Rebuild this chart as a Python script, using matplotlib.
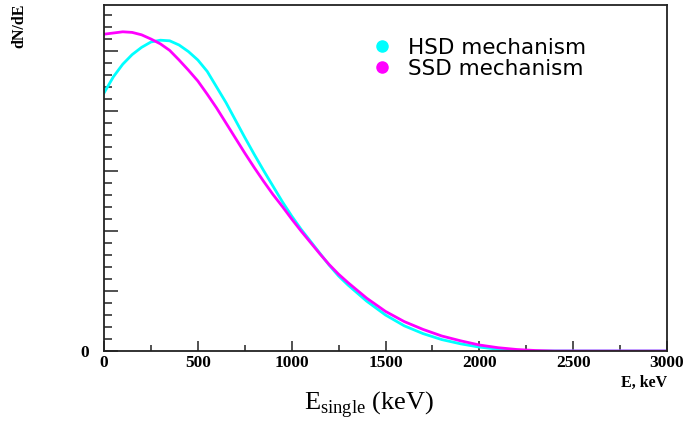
import matplotlib.pyplot as plt
from matplotlib.lines import Line2D
from matplotlib.ticker import MultipleLocator

plt.rcParams['mathtext.fontset'] = 'custom'
plt.rcParams['mathtext.rm'] = 'Liberation Serif'

# energy grid (keV) the curves were read at
e_grid = [0, 50, 100, 150, 200, 250, 300, 350, 400, 450, 500, 550, 600, 650,
          700, 750, 800, 850, 900, 950, 1000, 1050, 1100, 1150, 1200, 1250,
          1300, 1400, 1500, 1600, 1700, 1800, 1900, 2000, 2100, 2200, 2300,
          2400, 2600, 2800, 3000]

# HSD mechanism (cyan)
hsd_y = [4.30, 4.57, 4.78, 4.94, 5.06, 5.15, 5.18, 5.17, 5.10, 4.99, 4.85,
         4.66, 4.40, 4.14, 3.85, 3.56, 3.28, 3.01, 2.75, 2.49, 2.25, 2.03,
         1.83, 1.63, 1.43, 1.25, 1.10, 0.83, 0.60, 0.42, 0.29, 0.19, 0.12,
         0.065, 0.03, 0.008, 0.0, 0.0, 0.0, 0.0, 0.0]

# SSD mechanism (magenta)
ssd_y = [5.28, 5.30, 5.32, 5.31, 5.27, 5.20, 5.12, 5.01, 4.85, 4.68, 4.50,
         4.28, 4.05, 3.80, 3.55, 3.30, 3.06, 2.83, 2.61, 2.41, 2.20, 2.00,
         1.81, 1.62, 1.44, 1.28, 1.14, 0.88, 0.66, 0.49, 0.36, 0.25, 0.17,
         0.10, 0.055, 0.025, 0.008, 0.0, 0.0, 0.0, 0.0]

x_ticks = [0, 500, 1000, 1500, 2000, 2500, 3000]

fig = plt.figure(figsize=(6.86, 4.21), dpi=100)
ax = fig.add_axes([104 / 686, 70 / 421, 563 / 686, 346 / 421])

ax.plot(e_grid, hsd_y, color='#00ffff', lw=2.0)
ax.plot(e_grid, ssd_y, color='#ff00ff', lw=2.0)

ax.set_xlim(0, 3000)
ax.set_ylim(0, 346 / 60)

ax.set_xticks(x_ticks)
ax.set_xticklabels([str(t) for t in x_ticks], fontfamily='Liberation Serif',
                   fontweight='bold', fontsize=12.5)
ax.xaxis.set_minor_locator(MultipleLocator(250))
ax.set_yticks([0, 1, 2, 3, 4, 5])
ax.set_yticklabels(['0', '', '', '', '', ''], fontfamily='Liberation Serif',
                   fontweight='bold', fontsize=12.5)
ax.yaxis.set_minor_locator(MultipleLocator(0.2))

ax.tick_params(which='both', direction='in', color='#333333', width=1.2)
ax.tick_params(axis='x', which='major', length=7, pad=3)
ax.tick_params(axis='x', which='minor', length=4)
ax.tick_params(axis='y', which='major', length=10, pad=11)
ax.tick_params(axis='y', which='minor', length=6)

for s in ax.spines.values():
    s.set_color('#222222')
    s.set_linewidth(1.3)

# axis titles
ax.text(1.0, -0.068, 'E, keV', transform=ax.transAxes, ha='right', va='top',
        fontfamily='Liberation Serif', fontweight='bold', fontsize=11.5)
fig.text(19 / 686, 1 - 4 / 421, 'dN/dE', rotation=90, ha='center', va='top',
         fontfamily='Liberation Serif', fontweight='bold', fontsize=11.5)
fig.text(369 / 686, 1 - 404 / 421, r'E$_{\mathrm{single}}$ (keV)', ha='center',
         va='center', fontfamily='Liberation Serif', fontsize=19)

# legend
handles = [Line2D([0], [0], marker='o', ls='none', color='#00ffff', markersize=8,
                  label='HSD mechanism'),
           Line2D([0], [0], marker='o', ls='none', color='#ff00ff', markersize=8,
                  label='SSD mechanism')]
ax.legend(handles=handles, loc='upper left', bbox_to_anchor=(0.44, 0.962),
          frameon=False, prop={'family': 'DejaVu Sans', 'size': 15.5},
          handletextpad=0.7, labelspacing=0.05, handlelength=1.0)

fig.savefig('out.png', dpi=100)
